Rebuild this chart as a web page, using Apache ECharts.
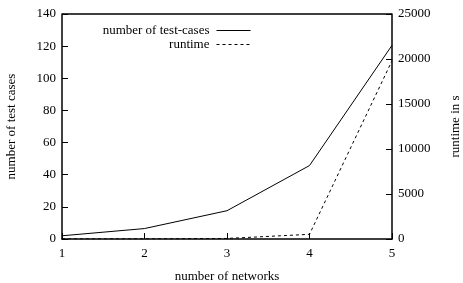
<!DOCTYPE html>
<html>
<head>
<meta charset="utf-8">
<script src="https://cdn.jsdelivr.net/npm/echarts@6/dist/echarts.min.js"></script>
<style>
  html, body { margin: 0; padding: 0; background: #fff; }
  #chart { width: 463px; height: 283px; }
</style>
</head>
<body>
<div id="chart"></div>
<script>
// networks on the x axis
const networks = [1, 2, 3, 4, 5];
// left axis: number of test cases
const testCases = [2, 6.5, 17.6, 45.7, 120.5];
// right axis: runtime in seconds
const runtime = [5, 15, 60, 520, 19800];

const font = 'Liberation Serif, DejaVu Serif, serif';
const chart = echarts.init(document.getElementById('chart'));

const axisText = { color: '#000', fontFamily: font, fontSize: 13 };

chart.setOption({
  animation: false,
  grid: { left: 62, right: 71, top: 14, bottom: 44, containLabel: false, outerBoundsMode: 'none' },
  legend: {
    orient: 'vertical',
    right: 207,
    top: 19,
    align: 'right',
    itemWidth: 34,
    itemHeight: 10,
    itemGap: 1,
    itemStyle: { opacity: 0 },
    lineStyle: { width: 1 },
    textStyle: { color: '#000', fontFamily: font, fontSize: 13, padding: [0, 2, 0, 0] },
    data: ['number of test-cases', 'runtime']
  },
  xAxis: {
    type: 'value',
    min: 1, max: 5, interval: 1,
    name: 'number of networks',
    nameLocation: 'middle',
    nameGap: 31,
    nameTextStyle: axisText,
    axisLine: { show: true, lineStyle: { color: '#000', width: 1.5 } },
    axisTick: { inside: true, length: 6, lineStyle: { color: '#000' } },
    axisLabel: Object.assign({ margin: 8 }, axisText),
    splitLine: { show: false }
  },
  yAxis: [
    {
      type: 'value',
      min: 0, max: 140, interval: 20,
      name: 'number of test cases',
      nameLocation: 'middle',
      nameRotate: 90,
      nameGap: 44,
      nameTextStyle: axisText,
      axisLine: { show: true, lineStyle: { color: '#000', width: 1.5 } },
      axisTick: { show: true, inside: true, length: 6, lineStyle: { color: '#000' } },
      axisLabel: Object.assign({ margin: 6 }, axisText),
      splitLine: { show: false }
    },
    {
      type: 'value',
      min: 0, max: 25000, interval: 5000,
      name: 'runtime in s',
      nameLocation: 'middle',
      nameRotate: 90,
      nameGap: 57,
      nameTextStyle: axisText,
      axisLine: { show: true, lineStyle: { color: '#000', width: 1.5 } },
      axisTick: { show: true, inside: true, length: 6, lineStyle: { color: '#000' } },
      axisLabel: Object.assign({ margin: 6, formatter: v => String(v) }, axisText),
      splitLine: { show: false }
    }
  ],
  graphic: [
    { type: 'line', shape: { x1: 62, y1: 14, x2: 392, y2: 14 }, style: { stroke: '#000', lineWidth: 1.5 } }
  ],
  series: [
    {
      name: 'number of test-cases',
      type: 'line',
      yAxisIndex: 0,
      symbol: 'none',
      lineStyle: { color: '#000', width: 1 },
      itemStyle: { color: '#000' },
      data: networks.map((n, i) => [n, testCases[i]])
    },
    {
      name: 'runtime',
      type: 'line',
      yAxisIndex: 1,
      symbol: 'none',
      lineStyle: { color: '#000', width: 1, type: [3, 3] },
      itemStyle: { color: '#000' },
      data: networks.map((n, i) => [n, runtime[i]])
    }
  ]
});
</script>
</body>
</html>
